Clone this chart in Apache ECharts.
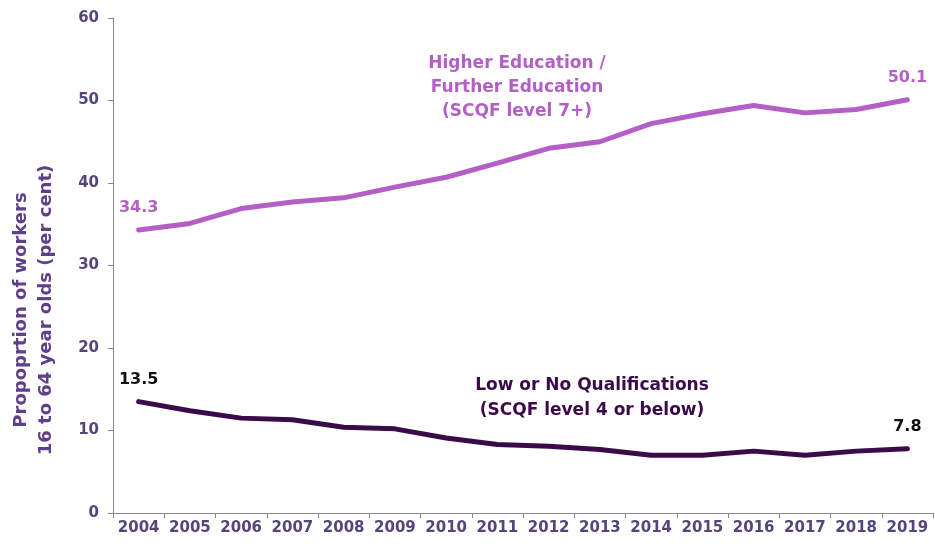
<!DOCTYPE html>
<html>
<head>
<meta charset="utf-8">
<script src="https://cdn.jsdelivr.net/npm/echarts@6/dist/echarts.min.js"></script>
<style>
html, body { margin: 0; padding: 0; background: #fff; }
#chart { width: 935px; height: 544px; }
</style>
</head>
<body>
<div id="chart"></div>
<script>
var years = ['2004', '2005', '2006', '2007', '2008', '2009', '2010', '2011',
    '2012', '2013', '2014', '2015', '2016', '2017', '2018', '2019'];
var higherEd = [34.3, 35.1, 36.9, 37.7, 38.2, 39.5, 40.7, 42.4,
    44.2, 45.0, 47.2, 48.4, 49.4, 48.5, 48.9, 50.1];
var lowQual = [13.5, 12.4, 11.5, 11.3, 10.4, 10.2, 9.1, 8.3,
    8.1, 7.7, 7.0, 7.0, 7.5, 7.0, 7.5, 7.8];
var yTicks = [0, 10, 20, 30, 40, 50, 60];

var font = '"DejaVu Sans", sans-serif';
var axisTextColor = '#56457a';
var lightPurple = '#b45fc6';
var darkPurple = '#3b0a4a';

// only label first and last points
function endLabel(color) {
    return {
        show: true,
        position: 'top',
        distance: 14,
        color: color,
        fontFamily: font,
        fontWeight: 'bold',
        fontSize: 16,
        formatter: function (p) {
            return (p.dataIndex === 0 || p.dataIndex === years.length - 1) ? p.value.toFixed(1) : '';
        }
    };
}

var chart = echarts.init(document.getElementById('chart'));
chart.setOption({
    animation: false,
    grid: { left: 113, right: 2, top: 18, bottom: 31, containLabel: false, outerBoundsMode: 'none' },
    xAxis: {
        type: 'category',
        data: years,
        boundaryGap: true,
        axisLine: { lineStyle: { color: '#8a8a8a', width: 1 } },
        axisTick: { show: true, lineStyle: { color: '#8a8a8a' }, length: 5 },
        axisLabel: {
            color: axisTextColor, fontFamily: font, fontWeight: 'bold',
            fontSize: 15, margin: 8, interval: 0
        }
    },
    yAxis: {
        type: 'value',
        min: yTicks[0],
        max: yTicks[yTicks.length - 1],
        interval: 10,
        axisLine: { show: true, lineStyle: { color: '#8a8a8a', width: 1 } },
        axisTick: { show: true, inside: false, length: 5, lineStyle: { color: '#8a8a8a' } },
        splitLine: { show: false },
        axisLabel: {
            color: axisTextColor, fontFamily: font, fontWeight: 'bold',
            fontSize: 15, margin: 14
        }
    },
    series: [{
        name: 'Higher Education / Further Education (SCQF level 7+)',
        type: 'line',
        data: higherEd,
        symbol: 'circle',
        symbolSize: 0,
        showSymbol: true,
        lineStyle: { color: lightPurple, width: 5, cap: 'round', join: 'round' },
        itemStyle: { color: lightPurple },
        label: endLabel(lightPurple)
    }, {
        name: 'Low or No Qualifications (SCQF level 4 or below)',
        type: 'line',
        data: lowQual,
        symbol: 'circle',
        symbolSize: 0,
        showSymbol: true,
        lineStyle: { color: darkPurple, width: 5, cap: 'round', join: 'round' },
        itemStyle: { color: darkPurple },
        label: endLabel('#111111')
    }],
    graphic: [{
        // y axis title
        type: 'text',
        x: 34,
        y: 310,
        rotation: Math.PI / 2,
        style: {
            text: 'Propoprtion of workers\n16 to 64 year olds (per cent)',
            textAlign: 'center',
            textVerticalAlign: 'middle',
            fill: '#5f4088',
            font: 'bold 18px ' + font,
            lineHeight: 25
        }
    }, {
        type: 'text',
        x: 517,
        y: 52,
        style: {
            text: 'Higher Education /\nFurther Education\n(SCQF level 7+)',
            textAlign: 'center',
            textVerticalAlign: 'top',
            fill: lightPurple,
            font: 'bold 17px ' + font,
            lineHeight: 24
        }
    }, {
        type: 'text',
        x: 592,
        y: 373,
        style: {
            text: 'Low or No Qualifications\n(SCQF level 4 or below)',
            textAlign: 'center',
            textVerticalAlign: 'top',
            fill: darkPurple,
            font: 'bold 17px ' + font,
            lineHeight: 25
        }
    }]
});
</script>
</body>
</html>
